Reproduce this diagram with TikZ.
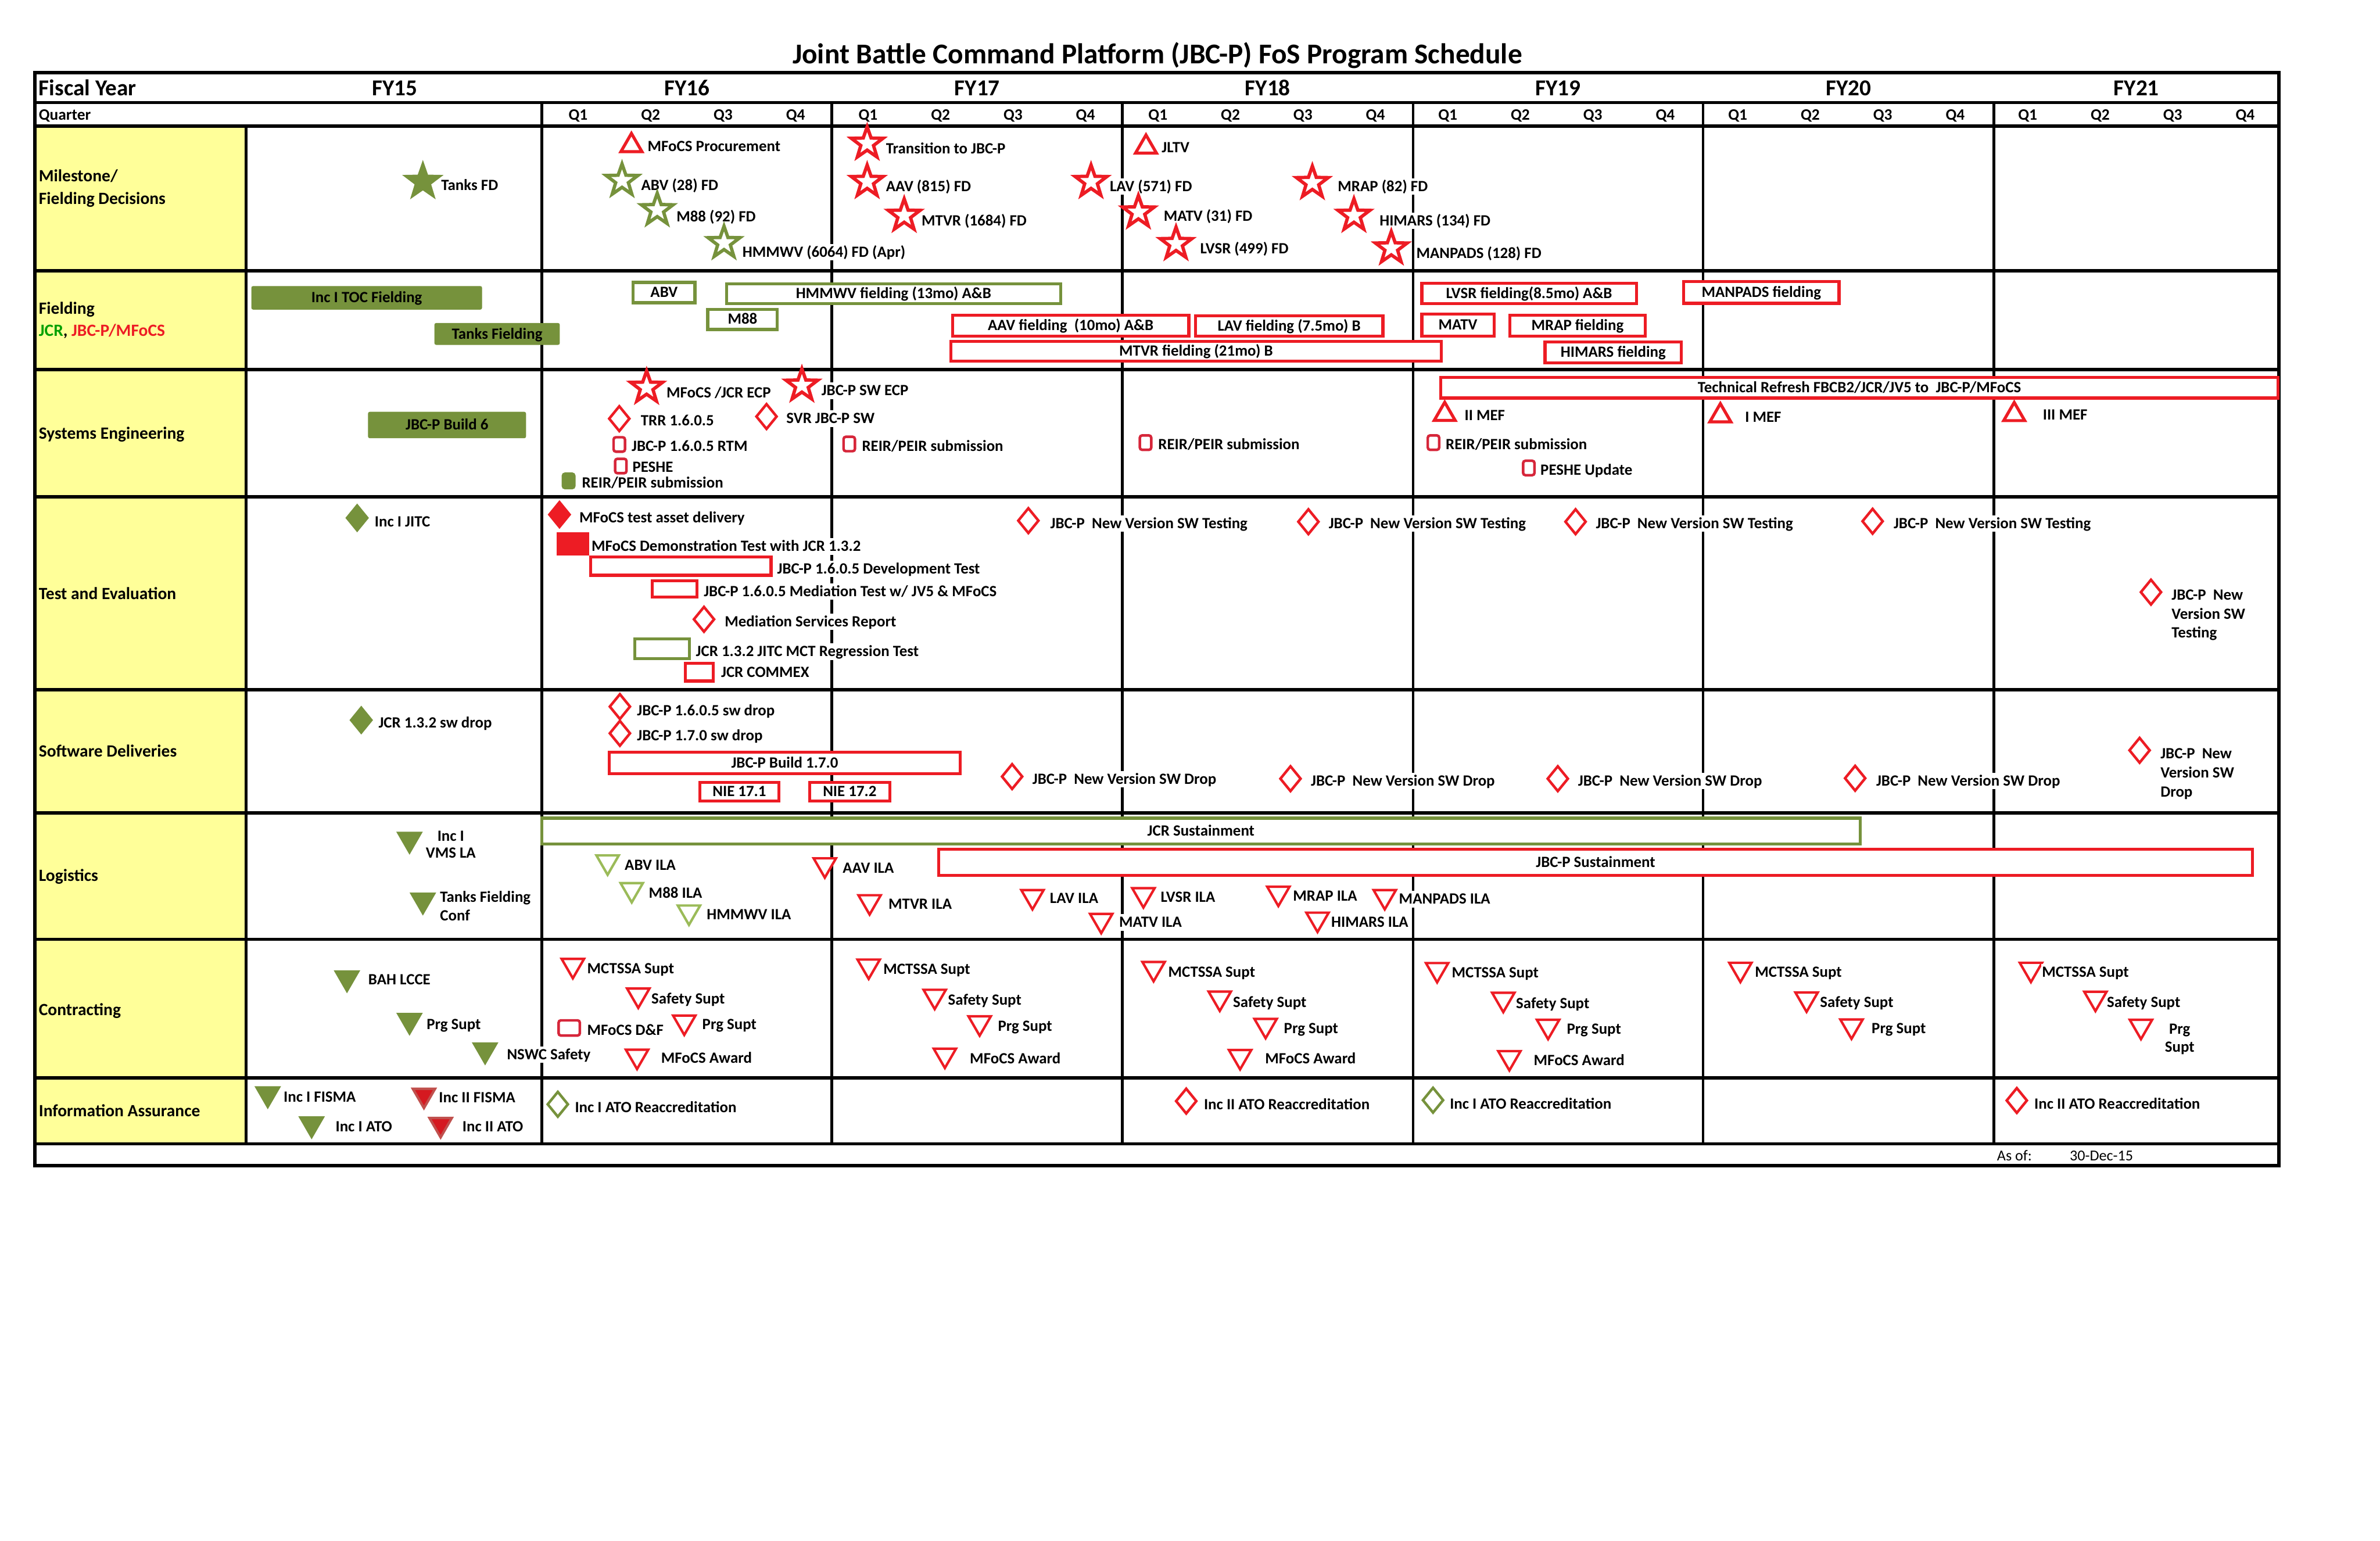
\documentclass[tikz,border=0pt]{standalone}
\usepackage{fontspec}
\setmainfont{Carlito}
\usepackage{tikz}
\usetikzlibrary{shapes.geometric}
\definecolor{olivegr}{RGB}{118,146,60}
\definecolor{ilagreen}{RGB}{155,187,89}
\definecolor{jcrgreen}{RGB}{0,160,0}
\definecolor{redacc}{RGB}{237,28,36}
\definecolor{docred}{RGB}{214,38,58}
\definecolor{iared}{RGB}{192,80,77}
\definecolor{rowyel}{RGB}{255,255,153}
\tikzset{
  ttl/.style    ={font=\fontsize{18.9}{22}\selectfont\bfseries, inner sep=0pt, anchor=base},
  hdr/.style    ={font=\fontsize{15}{18}\selectfont\bfseries, inner sep=0pt, text height=10pt, text depth=0pt},
  qlbl/.style   ={font=\fontsize{10.5}{12}\selectfont\bfseries, inner sep=0pt, text height=6.8pt, text depth=0pt},
  rowlbl/.style ={anchor=west, font=\fontsize{11.3}{15}\selectfont\bfseries, inner sep=0pt, text height=8pt, text depth=0.6pt},
  rowlbl2/.style={anchor=west, font=\fontsize{11.3}{15}\selectfont\bfseries, inner sep=0pt, align=left},
  lbl/.style    ={anchor=west, font=\fontsize{10.3}{12.5}\selectfont\bfseries, fill=white,
                  inner xsep=0.5pt, inner ysep=1pt, text height=7.6pt, text depth=1.2pt},
  lblm/.style   ={anchor=west, font=\fontsize{10.3}{12.5}\selectfont\bfseries, fill=white, inner sep=1pt, align=left},
  rowline/.style={line width=2.2pt},
  colline/.style={line width=1.8pt},
  barbase/.style={font=\fontsize{10.3}{12.5}\selectfont\bfseries, inner sep=0pt, text height=7.6pt, text depth=1.2pt},
  gbar/.style   ={barbase, fill=olivegr, draw=olivegr, rounded corners=1pt},
  gbox/.style   ={barbase, draw=olivegr, line width=2pt, fill=white},
  rbox/.style   ={barbase, draw=redacc, line width=2pt, fill=white},
  rboxf/.style  ={barbase, draw=redacc, fill=redacc},
  rstar/.style  ={star, star points=5, star point ratio=2.5, draw=redacc, fill=white, line width=2.2pt,
                  minimum size=22pt, inner sep=0pt},
  gstar/.style  ={rstar, draw=olivegr},
  gstarf/.style ={rstar, draw=olivegr, fill=olivegr},
  rtri/.style   ={regular polygon, regular polygon sides=3, draw=redacc, fill=white, line width=2pt,
                  minimum size=16pt, inner sep=0pt},
  rdia/.style   ={diamond, draw=redacc, fill=white, line width=1.7pt, minimum width=14pt, minimum height=17pt, inner sep=0pt},
  gdia/.style   ={rdia, draw=olivegr},
  gdiaf/.style  ={rdia, draw=olivegr, fill=olivegr},
  rdiaf/.style  ={rdia, fill=redacc},
  rdown/.style  ={regular polygon, regular polygon sides=3, shape border rotate=180, draw=redacc, fill=white,
                  line width=1.6pt, minimum size=17pt, inner sep=0pt},
  lgdown/.style ={rdown, draw=ilagreen},
  gdown/.style  ={rdown, draw=olivegr, fill=olivegr},
  iadown/.style ={rdown, draw=iared, fill=redacc!90!black},
  rdoc/.style   ={draw=docred, fill=white, line width=1.7pt, rounded corners=1.5pt, minimum width=7.5pt,
                  minimum height=9.5pt, inner sep=0pt},
  gdoc/.style   ={rdoc, draw=olivegr, fill=olivegr},
}
\begin{document}
\begin{tikzpicture}[x=1pt,y=-1pt]
\useasboundingbox (0,0) rectangle (1568,1015);

\node[ttl] (title) at (762.5,42.1) {Joint Battle Command Platform (JBC-P) FoS Program Schedule};

% table frame
\fill[rowyel] (23,83) rectangle (162,753.6);
\foreach \y in {67.6,83,178.5,243.5,327.3,454.3,535.5,618.8,710,753.6}
  \draw[rowline] (23,\y) -- (1501.4,\y);
\draw[colline] (162,83) -- (162,753.6);
\foreach \x in {357,548,739.5,931,1122,1313.5}
  \draw[colline] (\x,67.6) -- (\x,753.6);
\draw[rowline] (23,47.8) rectangle (1501.4,768);

% header
\node[hdr,anchor=west] (fyear) at (25.4,58) {Fiscal Year};
\node[hdr] (fy15) at (260,58) {FY15};
\node[hdr] (fy16) at (452.5,58) {FY16};
\node[hdr] (fy17) at (643.8,58) {FY17};
\node[hdr] (fy18) at (835.2,58) {FY18};
\node[hdr] (fy19) at (1026.5,58) {FY19};
\node[hdr] (fy20) at (1217.8,58) {FY20};
\node[hdr] (fy21) at (1407.5,58) {FY21};
\node[qlbl,anchor=west] (quarter) at (25.4,75.8) {Quarter};
\foreach \k in {0,...,5}{
  \foreach \q in {1,...,4}
    \node[qlbl] (q\k\q) at ({357+191*\k+47.75*(\q-0.5)},75.8) {Q\q};
}

% row titles
\node[rowlbl2] (rmil) at (25.4,124.1) {Milestone/\\Fielding Decisions};
\node[rowlbl2] (rfld) at (25.4,211.1) {Fielding\\[-0.5pt]{\color{jcrgreen}JCR}, {\color{redacc}JBC-P/MFoCS}};
\node[rowlbl] (rse) at (25.4,285.5) {Systems Engineering};
\node[rowlbl] (rte) at (25.4,391) {Test and Evaluation};
\node[rowlbl] (rsw) at (25.4,495) {Software Deliveries};
\node[rowlbl] (rlog) at (25.4,577) {Logistics};
\node[rowlbl] (rcon) at (25.4,665.2) {Contracting};
\node[rowlbl] (ria) at (25.4,732) {Information Assurance};

% milestone / fielding decisions
\node[gstarf] (tanksfd) at (278.6,119.7) {};
\node[lbl] (tanksfdl) at (290,122) {Tanks FD};
\node[rtri] (mfocsproc) at (416,95.9) {};
\node[lbl] (mfocsprocl) at (426,96.5) {MFoCS Procurement};
\node[gstar] (abvfd) at (409.8,119) {};
\node[lbl] (abvfdl) at (421.8,122.2) {ABV (28) FD};
\node[gstar] (m88fd) at (433,138.3) {};
\node[lbl] (m88fdl) at (445,143) {M88 (92) FD};
\node[gstar] (hmmwvfd) at (477,160) {};
\node[lbl] (hmmwvfdl) at (488.5,166) {HMMWV (6064) FD (Apr)};
\node[rstar] (jbcptr) at (571.3,94.5) {};
\node[lbl] (jbcptrl) at (583,98) {Transition to JBC-P};
\node[rstar] (aavfd) at (571.3,119.7) {};
\node[lbl] (aavfdl) at (583,123) {AAV (815) FD};
\node[rstar] (mtvrfd) at (595.7,142) {};
\node[lbl] (mtvrfdl) at (606.5,145.5) {MTVR (1684) FD};
\node[rstar] (lavfd) at (718.8,119.7) {};
\node[lbl] (lavfdl) at (730.5,123) {LAV (571) FD};
\node[rtri] (jltv) at (755,96.9) {};
\node[lbl] (jltvl) at (764.7,97.4) {JLTV};
\node[rstar] (matvfd) at (750,139.8) {};
\node[lbl] (matvfdl) at (766,142.6) {MATV (31) FD};
\node[rstar] (lvsrfd) at (774.8,160.6) {};
\node[lbl] (lvsrfdl) at (790,164) {LVSR (499) FD};
\node[rstar] (mrapfd) at (864.6,120.4) {};
\node[lbl] (mrapfdl) at (880.7,123) {MRAP (82) FD};
\node[rstar] (himarsfd) at (892,142) {};
\node[lbl] (himarsfdl) at (908.2,145.5) {HIMARS (134) FD};
\node[rstar] (manpadsfd) at (916.6,163.5) {};
\node[lbl] (manpadsfdl) at (932.4,166.8) {MANPADS (128) FD};

% fielding
\node[gbar,minimum width=151.6pt,minimum height=15.1pt] (tocfld) at (241.6,196.2) {Inc I TOC Fielding};
\node[gbar,minimum width=82.2pt,minimum height=14pt] (tanksfld) at (327.5,220) {Tanks Fielding};
\node[gbox,minimum width=40.6pt,minimum height=13.4pt] (abvfld) at (437.5,192.7) {ABV};
\node[gbox,minimum width=220pt,minimum height=13pt] (hmmwvfld) at (588.7,193.5) {HMMWV fielding (13mo) A\&B};
\node[gbox,minimum width=45.8pt,minimum height=13.3pt] (m88fld) at (489.2,210.4) {M88};
\node[rbox,minimum width=155.6pt,minimum height=13.8pt] (aavfld) at (705.4,214.5) {AAV fielding\ \ (10mo) A\&B};
\node[rbox,minimum width=123.5pt,minimum height=13.4pt] (lavfld) at (849.3,214.7) {LAV fielding (7.5mo) B};
\node[rbox,minimum width=322.9pt,minimum height=13.2pt] (mtvrfld) at (788,231.4) {MTVR fielding (21mo) B};
\node[rbox,minimum width=141.3pt,minimum height=13.6pt] (lvsrfld) at (1007.4,193.3) {LVSR fielding(8.5mo) A\&B};
\node[rbox,minimum width=47.6pt,minimum height=14.4pt] (matvfld) at (960.5,214.2) {MATV};
\node[rbox,minimum width=89.2pt,minimum height=13.8pt] (mrapfld) at (1039.3,214.5) {MRAP fielding};
\node[rbox,minimum width=89.8pt,minimum height=13.9pt] (himarsfld) at (1062.8,232.2) {HIMARS fielding};
\node[rbox,minimum width=102.3pt,minimum height=14.4pt] (manpadsfld) at (1160.4,192.6) {MANPADS fielding};

% systems engineering
\node[gbar,minimum width=103.7pt,minimum height=17pt] (build6) at (294.5,280) {JBC-P Build 6};
\node[rbox,minimum width=551.8pt,minimum height=13.7pt] (techref) at (1225,255.4) {Technical Refresh FBCB2/JCR/JV5 to\ \ JBC-P/MFoCS};
\node[rstar] (jcrecp) at (426,255.3) {};
\node[lbl] (jcrecpl) at (438.4,258.8) {MFoCS /JCR ECP};
\node[rstar] (swecp) at (528.3,253.9) {};
\node[lbl] (swecpl) at (540.5,257.4) {JBC-P SW ECP};
\node[rdia] (trr) at (408,275.8) {};
\node[lbl] (trrl) at (421.5,277.2) {TRR 1.6.0.5};
\node[rdia] (svr) at (505,274.4) {};
\node[lbl] (svrl) at (517.4,275.8) {SVR JBC-P SW};
\node[rdoc] (rtm) at (408,292.8) {};
\node[lbl] (rtml) at (415.5,294.2) {JBC-P 1.6.0.5 RTM};
\node[rdoc] (peshe) at (409,307) {};
\node[lbl] (peshel) at (416,308) {PESHE};
\node[gdoc] (reir1) at (374.6,316.8) {};
\node[lbl] (reir1l) at (382.7,318.3) {REIR/PEIR submission};
\node[rdoc] (reir2) at (559.5,292.5) {};
\node[lbl] (reir2l) at (567.2,293.9) {REIR/PEIR submission};
\node[rdoc] (reir3) at (754.7,291.6) {};
\node[lbl] (reir3l) at (762.4,293) {REIR/PEIR submission};
\node[rdoc] (reir4) at (944.4,291.6) {};
\node[lbl] (reir4l) at (951.8,293) {REIR/PEIR submission};
\node[rdoc] (pesheup) at (1007.2,308.3) {};
\node[lbl] (pesheupl) at (1014.2,309.7) {PESHE Update};
\node[rtri] (iimef) at (951.8,273) {};
\node[lbl] (iimefl) at (964.2,273.7) {II MEF};
\node[rtri] (imef) at (1133.4,273.9) {};
\node[lbl] (imefl) at (1149,275) {I MEF};
\node[rtri] (iiimef) at (1327,273.1) {};
\node[lbl] (iiimefl) at (1345.2,273.4) {III MEF};

% test and evaluation
\node[gdiaf] (jitc) at (235.3,341.2) {};
\node[lbl] (jitcl) at (246.2,343.7) {Inc I JITC};
\node[rdiaf] (asset) at (368.6,339) {};
\node[lbl] (assetl) at (381,341.2) {MFoCS test asset delivery};
\node[rboxf,minimum width=21.2pt,minimum height=14.6pt] (demo) at (377.4,358.3) {};
\node[lbl] (demol) at (389,360) {MFoCS Demonstration Test with JCR 1.3.2};
\node[rbox,minimum width=119pt,minimum height=12pt] (devtest) at (448.5,373) {};
\node[lbl] (devtestl) at (511.4,374.8) {JBC-P 1.6.0.5 Development Test};
\node[rbox,minimum width=29.6pt,minimum height=10.6pt] (medtest) at (444.4,388) {};
\node[lbl] (medtestl) at (463,389.7) {JBC-P 1.6.0.5 Mediation Test w/ JV5 \& MFoCS};
\node[rdia] (medrep) at (463.8,408) {};
\node[lbl] (medrepl) at (476.8,409.5) {Mediation Services Report};
\node[gbox,minimum width=36pt,minimum height=13.2pt] (mct) at (436.3,427.4) {};
\node[lbl] (mctl) at (457.8,429.3) {JCR 1.3.2 JITC MCT Regression Test};
\node[rbox,minimum width=18.3pt,minimum height=11.7pt] (commex) at (460.6,442.8) {};
\node[lbl] (commexl) at (474.4,442.8) {JCR COMMEX};
\node[rdia] (tst1) at (677.5,343) {};
\node[lbl] (tst1l) at (691.3,344.8) {JBC-P\ \ New Version SW Testing};
\node[rdia] (tst2) at (862,343.7) {};
\node[lbl] (tst2l) at (874.7,345) {JBC-P\ \ New Version SW Testing};
\node[rdia] (tst3) at (1038,343.7) {};
\node[lbl] (tst3l) at (1050.7,345) {JBC-P\ \ New Version SW Testing};
\node[rdia] (tst4) at (1233.7,343.4) {};
\node[lbl] (tst4l) at (1246.9,345) {JBC-P\ \ New Version SW Testing};
\node[rdia] (tst5) at (1417.1,390.1) {};
\node[lblm] (tst5l) at (1429.5,405.3) {JBC-P\ \ New\\Version SW\\Testing};

% software deliveries
\node[gdiaf] (jcrdrop) at (238,474.4) {};
\node[lbl] (jcrdropl) at (248.7,476.3) {JCR 1.3.2 sw drop};
\node[rdia] (drop1605) at (408.4,465.5) {};
\node[lbl] (drop1605l) at (419,468.3) {JBC-P 1.6.0.5 sw drop};
\node[rdia] (drop170) at (408.4,483.1) {};
\node[lbl] (drop170l) at (419,484.8) {JBC-P 1.7.0 sw drop};
\node[rbox,minimum width=231.2pt,minimum height=14pt] (build170) at (517,502.6) {JBC-P Build 1.7.0};
\node[rbox,minimum width=52.2pt,minimum height=12.4pt] (nie171) at (487.1,521.5) {NIE 17.1};
\node[rbox,minimum width=53pt,minimum height=12.4pt] (nie172) at (559.8,521.5) {NIE 17.2};
\node[rdia] (drp1) at (666.8,511.6) {};
\node[lbl] (drp1l) at (679.5,513.3) {JBC-P\ \ New Version SW Drop};
\node[rdia] (drp2) at (850.2,513) {};
\node[lbl] (drp2l) at (863,514.5) {JBC-P\ \ New Version SW Drop};
\node[rdia] (drp3) at (1026.3,513) {};
\node[lbl] (drp3l) at (1039,514.5) {JBC-P\ \ New Version SW Drop};
\node[rdia] (drp4) at (1222.2,512.7) {};
\node[lbl] (drp4l) at (1235.4,514.4) {JBC-P\ \ New Version SW Drop};
\node[rdia] (drp5) at (1409.6,494.3) {};
\node[lblm] (drp5l) at (1422.2,509.8) {JBC-P\ \ New\\Version SW\\Drop};

% logistics
\node[gbox,minimum width=868.5pt,minimum height=17.1pt] (jcrsus) at (791.2,547.5) {JCR Sustainment};
\node[rbox,minimum width=865.3pt,minimum height=17.1pt] (jbcpsus) at (1051.2,568) {JBC-P Sustainment};
\node[gdown] (vmsla) at (269.8,553) {};
\node[lblm,align=center,anchor=center] (vmslal) at (297,556.4) {Inc I\\[-1.3pt]VMS LA};
\node[gdown] (tkconf) at (278.6,593.1) {};
\node[lblm] (tkconfl) at (288.7,596.8) {Tanks Fielding\\Conf};
\node[lgdown] (abvila) at (400.3,567.8) {};
\node[lbl] (abvilal) at (410.9,570) {ABV ILA};
\node[lgdown] (m88ila) at (416.2,586) {};
\node[lbl] (m88ilal) at (426.8,588.4) {M88 ILA};
\node[lgdown] (hmmwvila) at (453.9,600.8) {};
\node[lbl] (hmmwvilal) at (464.9,602.6) {HMMWV ILA};
\node[rdown] (aavila) at (543.4,569.7) {};
\node[lbl] (aavilal) at (554.5,572) {AAV ILA};
\node[rdown] (mtvrila) at (572.9,594) {};
\node[lbl] (mtvrilal) at (584.7,595.8) {MTVR ILA};
\node[rdown] (lavila) at (680.2,590.6) {};
\node[lbl] (lavilal) at (691,592) {LAV ILA};
\node[rdown] (lvsrila) at (753.3,589.4) {};
\node[lbl] (lvsrilal) at (764,591) {LVSR ILA};
\node[rdown] (matvila) at (725.5,606.3) {};
\node[lbl] (matvilal) at (736.6,607.7) {MATV ILA};
\node[rdown] (mrapila) at (842.2,588.4) {};
\node[lbl] (mrapilal) at (851.2,590.4) {MRAP ILA};
\node[rdown] (manpadsila) at (912.3,590.6) {};
\node[lbl] (manpadsilal) at (921,592.4) {MANPADS ILA};
\node[rdown] (himarsila) at (868,605.5) {};
\node[lbl] (himarsilal) at (876.4,607.5) {HIMARS ILA};

% contracting
\node[gdown] (bah) at (228.6,644.3) {};
\node[lbl] (bahl) at (242,645.5) {BAH LCCE};
\node[gdown] (prg15) at (269.8,672.3) {};
\node[lbl] (prg15l) at (280.4,674.8) {Prg Supt};
\node[gdown] (nswc) at (319.6,691.8) {};
\node[lbl] (nswcl) at (333.3,694.7) {NSWC Safety};
\node[rdown] (mct16) at (377.4,636) {};
\node[lbl] (mct16l) at (386.2,638.2) {MCTSSA Supt};
\node[rdown] (saf16) at (420.5,655.5) {};
\node[lbl] (saf16l) at (428.5,658) {Safety Supt};
\node[rdoc,minimum width=14pt,minimum height=10pt] (dandf) at (375,677.2) {};
\node[lbl] (dandfl) at (386.2,678.8) {MFoCS D\&F};
\node[rdown] (prg16) at (450.8,673.3) {};
\node[lbl] (prg16l) at (462,674.8) {Prg Supt};
\node[rdown] (awd16) at (419.7,695.8) {};
\node[lbl] (awd16l) at (434.9,697) {MFoCS Award};
\node[rdown] (mct17) at (572.3,636.4) {};
\node[lbl] (mct17l) at (581.3,638.5) {MCTSSA Supt};
\node[rdown] (saf17) at (615.8,656.3) {};
\node[lbl] (saf17l) at (623.9,659) {Safety Supt};
\node[rdown] (prg17) at (645.4,673.8) {};
\node[lbl] (prg17l) at (656.8,676) {Prg Supt};
\node[rdown] (awd17) at (622.5,695.1) {};
\node[lbl] (awd17l) at (638.3,697.5) {MFoCS Award};
\node[rdown] (mct18) at (760,638) {};
\node[lbl] (mct18l) at (769,640.5) {MCTSSA Supt};
\node[rdown] (saf18) at (803.6,657.5) {};
\node[lbl] (saf18l) at (811.7,660.3) {Safety Supt};
\node[rdown] (prg18) at (833.8,675.5) {};
\node[lbl] (prg18l) at (845.2,677.7) {Prg Supt};
\node[rdown] (awd18) at (817,696) {};
\node[lbl] (awd18l) at (832.8,697.5) {MFoCS Award};
\node[rdown] (mct19) at (946.8,638.7) {};
\node[lbl] (mct19l) at (955.8,640.8) {MCTSSA Supt};
\node[rdown] (saf19) at (990.4,658.3) {};
\node[lbl] (saf19l) at (998.1,661) {Safety Supt};
\node[rdown] (prg19) at (1019.9,676.1) {};
\node[lbl] (prg19l) at (1031.6,678) {Prg Supt};
\node[rdown] (awd19) at (994.4,696.7) {};
\node[lbl] (awd19l) at (1009.8,698.5) {MFoCS Award};
\node[rdown] (mct20) at (1146.6,638.5) {};
\node[lbl] (mct20l) at (1155.5,640.3) {MCTSSA Supt};
\node[rdown] (saf20) at (1190.2,658.1) {};
\node[lbl] (saf20l) at (1198.4,660.5) {Safety Supt};
\node[rdown] (prg20) at (1219.8,675.9) {};
\node[lbl] (prg20l) at (1232.4,677.5) {Prg Supt};
\node[rdown] (mct21) at (1338,638.5) {};
\node[lbl] (mct21l) at (1344.6,640.3) {MCTSSA Supt};
\node[rdown] (saf21) at (1380.5,657.6) {};
\node[lbl] (saf21l) at (1387.4,660.5) {Safety Supt};
\node[rdown] (prg21) at (1410.5,676.1) {};
\node[lblm,align=center,anchor=center] (prg21l) at (1436,684.6) {Prg\\[-0.6pt]Supt};

% information assurance
\node[gdown] (ifisma) at (176.4,720.7) {};
\node[lbl] (ifismal) at (186.2,722.6) {Inc I FISMA};
\node[gdown] (iato) at (205.3,740.5) {};
\node[lbl] (iatol) at (220.4,742.2) {Inc I ATO};
\node[iadown] (iifisma) at (279.3,721.5) {};
\node[lbl] (iifismal) at (288.5,723) {Inc II FISMA};
\node[iadown] (iiato) at (290.3,740.8) {};
\node[lbl] (iiatol) at (304,742.2) {Inc II ATO};
\node[gdia] (reacc16) at (367.5,727.5) {};
\node[lbl] (reacc16l) at (378.1,729.7) {Inc I ATO Reaccreditation};
\node[rdia] (reacc18) at (781.5,725.4) {};
\node[lbl] (reacc18l) at (792.5,727.7) {Inc II ATO Reaccreditation};
\node[gdia] (reacc19) at (944.1,724.8) {};
\node[lbl] (reacc19l) at (954.5,727.2) {Inc I ATO Reaccreditation};
\node[rdia] (reacc21) at (1328.7,725) {};
\node[lbl] (reacc21l) at (1339.6,727.5) {Inc II ATO Reaccreditation};

% date line
\node[anchor=west,font=\fontsize{10}{12}\selectfont,inner sep=0pt] (asof) at (1315.5,761.4) {As of:};
\node[anchor=west,font=\fontsize{10}{12}\selectfont,inner sep=0pt] (asofdate) at (1363.4,761.4) {30-Dec-15};
\end{tikzpicture}
\end{document}
